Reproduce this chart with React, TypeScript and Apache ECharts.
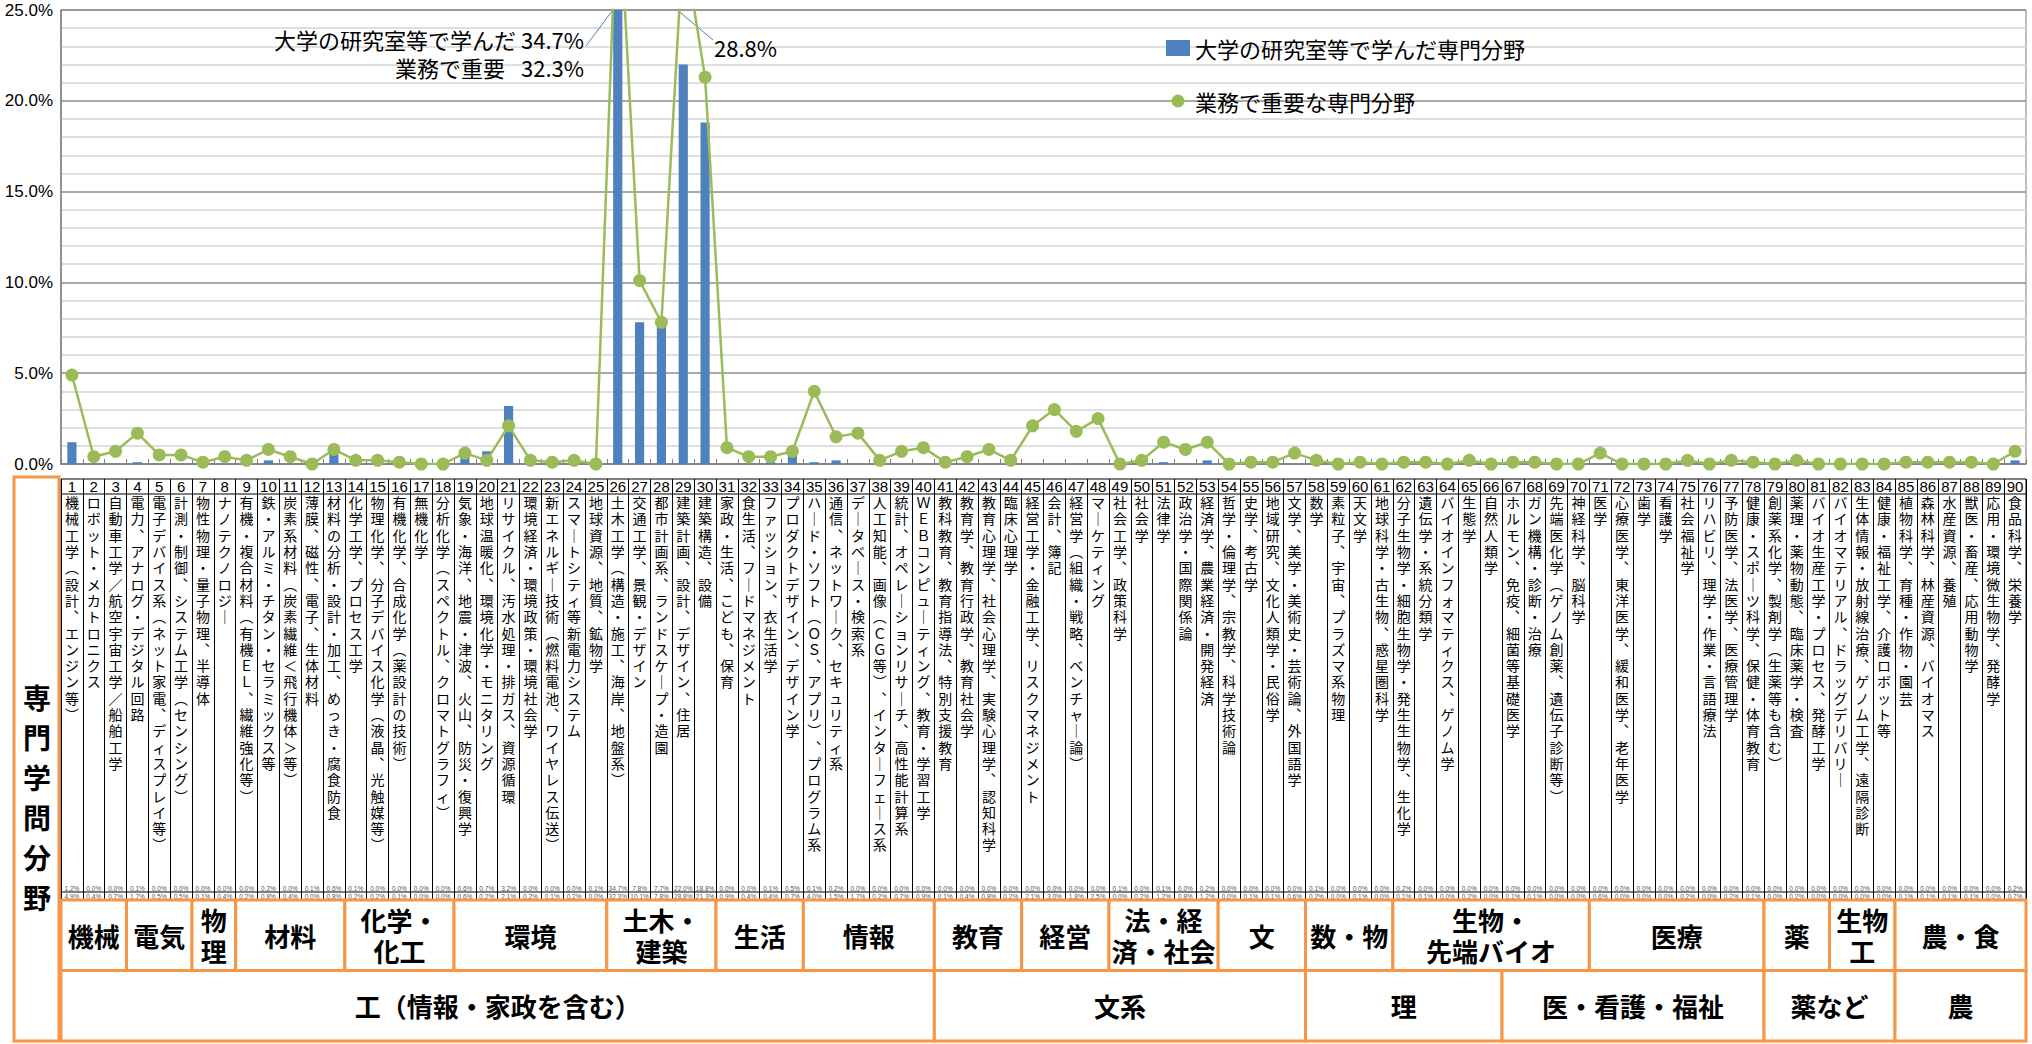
import React, { useEffect, useRef } from 'react';
import * as echarts from 'echarts';

const fieldNumbers = ['1','2','3','4','5','6','7','8','9','10','11','12','13','14','15','16','17','18','19','20','21','22','23','24','25','26','27','28','29','30','31','32','33','34','35','36','37','38','39','40','41','42','43','44','45','46','47','48','49','50','51','52','53','54','55','56','57','58','59','60','61','62','63','64','65','66','67','68','69','70','71','72','73','74','75','76','77','78','79','80','81','82','83','84','85','86','87','88','89','90'];

const fieldNames = [
  '機械工学（設計、エンジン等）',
  'ロボット・メカトロニクス',
  '自動車工学／航空宇宙工学／船舶工学',
  '電力、アナログ・デジタル回路',
  '電子デバイス系（ネット家電、ディスプレイ等）',
  '計測・制御、システム工学（センシング）',
  '物性物理・量子物理、半導体',
  'ナノテクノロジー',
  '有機・複合材料（有機ＥＬ、繊維強化等）',
  '鉄・アルミ・チタン・セラミックス等',
  '炭素系材料（炭素繊維＜飛行機体＞等）',
  '薄膜、磁性、電子、生体材料',
  '材料の分析・設計・加工、めっき・腐食防食',
  '化学工学、プロセス工学',
  '物理化学、分子デバイス化学（液晶、光触媒等）',
  '有機化学、合成化学（薬設計の技術）',
  '無機化学',
  '分析化学（スペクトル、クロマトグラフィ）',
  '気象・海洋、地震・津波、火山、防災・復興学',
  '地球温暖化、環境化学・モニタリング',
  'リサイクル、汚水処理・排ガス、資源循環',
  '環境経済・環境政策・環境社会学',
  '新エネルギー技術（燃料電池、ワイヤレス伝送）',
  'スマートシティ等新電力システム',
  '地球資源、地質、鉱物学',
  '土木工学（構造・施工、海岸、地盤系）',
  '交通工学、景観・デザイン',
  '都市計画系、ランドスケープ・造園',
  '建築計画、設計、デザイン、住居',
  '建築構造、設備',
  '家政・生活、こども、保育',
  '食生活、フードマネジメント',
  'ファッション、衣生活学',
  'プロダクトデザイン、デザイン学',
  'ハード・ソフト（ＯＳ、アプリ）、プログラム系',
  '通信、ネットワーク、セキュリティ系',
  'データベース・検索系',
  '人工知能、画像（ＣＧ等）、インターフェース系',
  '統計、オペレーションリサーチ、高性能計算系',
  'ＷＥＢコンピューティング、教育・学習工学',
  '教科教育、教育指導法、特別支援教育',
  '教育学、教育行政学、教育社会学',
  '教育心理学、社会心理学、実験心理学、認知科学',
  '臨床心理学',
  '経営工学・金融工学、リスクマネジメント',
  '会計、簿記',
  '経営学（組織・戦略、ベンチャー論）',
  'マーケティング',
  '社会工学、政策科学',
  '社会学',
  '法律学',
  '政治学・国際関係論',
  '経済学、農業経済・開発経済',
  '哲学・倫理学、宗教学、科学技術論',
  '史学、考古学',
  '地域研究、文化人類学・民俗学',
  '文学、美学・美術史・芸術論、外国語学',
  '数学',
  '素粒子、宇宙、プラズマ系物理',
  '天文学',
  '地球科学・古生物、惑星圏科学',
  '分子生物学・細胞生物学・発生生物学、生化学',
  '遺伝学・系統分類学',
  'バイオインフォマティクス、ゲノム学',
  '生態学',
  '自然人類学',
  'ホルモン、免疫、細菌等基礎医学',
  'ガン機構・診断・治療',
  '先端医化学（ゲノム創薬、遺伝子診断等）',
  '神経科学、脳科学',
  '医学',
  '心療医学、東洋医学、緩和医学、老年医学',
  '歯学',
  '看護学',
  '社会福祉学',
  'リハビリ、理学・作業・言語療法',
  '予防医学、法医学、医療管理学',
  '健康・スポーツ科学、保健・体育教育',
  '創薬系化学、製剤学（生薬等も含む）',
  '薬理・薬物動態、臨床薬学・検査',
  'バイオ生産工学・プロセス、発酵工学',
  'バイオマテリアル、ドラッグデリバリー',
  '生体情報・放射線治療、ゲノム工学、遠隔診断',
  '健康・福祉工学、介護ロボット等',
  '植物科学、育種・作物・園芸',
  '森林科学、林産資源、バイオマス',
  '水産資源、養殖',
  '獣医・畜産、応用動物学',
  '応用・環境微生物学、発酵学',
  '食品科学、栄養学',
];

// % of respondents: field studied in the university lab (bars)
const studiedShare = [
  1.2, 0.0, 0.0, 0.1, 0.0, 0.0, 0.0, 0.0, 0.0, 0.2,
  0.0, 0.1, 0.6, 0.1, 0.0, 0.0, 0.0, 0.0, 0.6, 0.7,
  3.2, 0.0, 0.0, 0.0, 0.1, 34.7, 7.8, 7.7, 22.0, 18.8,
  0.0, 0.0, 0.1, 0.5, 0.1, 0.2, 0.0, 0.0, 0.0, 0.0,
  0.0, 0.0, 0.0, 0.0, 0.0, 0.0, 0.0, 0.0, 0.1, 0.0,
  0.1, 0.0, 0.2, 0.0, 0.0, 0.0, 0.0, 0.1, 0.0, 0.0,
  0.0, 0.2, 0.0, 0.0, 0.0, 0.0, 0.0, 0.0, 0.0, 0.0,
  0.0, 0.0, 0.0, 0.0, 0.0, 0.0, 0.0, 0.0, 0.0, 0.0,
  0.0, 0.0, 0.0, 0.0, 0.0, 0.0, 0.0, 0.0, 0.0, 0.2,
];

// % of respondents: field important in their work (line)
const importantShare = [
  4.9, 0.4, 0.7, 1.7, 0.5, 0.5, 0.1, 0.4, 0.2, 0.8,
  0.4, 0.0, 0.8, 0.2, 0.2, 0.1, 0.0, 0.0, 0.6, 0.2,
  2.1, 0.2, 0.1, 0.2, 0.0, 32.3, 10.1, 7.8, 28.8, 21.3,
  0.9, 0.4, 0.4, 0.7, 4.0, 1.5, 1.7, 0.2, 0.7, 0.9,
  0.1, 0.4, 0.8, 0.2, 2.1, 3.0, 1.8, 2.5, 0.0, 0.2,
  1.2, 0.8, 1.2, 0.0, 0.1, 0.1, 0.6, 0.2, 0.0, 0.1,
  0.0, 0.1, 0.1, 0.0, 0.2, 0.0, 0.1, 0.1, 0.0, 0.0,
  0.6, 0.0, 0.0, 0.0, 0.2, 0.0, 0.2, 0.1, 0.0, 0.2,
  0.0, 0.0, 0.0, 0.0, 0.1, 0.1, 0.1, 0.1, 0.0, 0.7,
];

const subGroupLabels = ['機械', '電気', '物\n理', '材料', '化学・\n化工', '環境', '土木・\n建築', '生活', '情報', '教育', '経営', '法・経\n済・社会', '文', '数・物', '生物・\n先端バイオ', '医療', '薬', '生物\n工', '農・食'];
const subGroupFirst = [1, 4, 7, 9, 14, 19, 26, 31, 35, 41, 45, 49, 54, 58, 62, 71, 79, 82, 85];
const subGroupLast = [3, 6, 8, 13, 18, 25, 30, 34, 40, 44, 48, 53, 57, 61, 70, 78, 81, 84, 90];

const majorGroupLabels = ['工（情報・家政を含む）', '文系', '理', '医・看護・福祉', '薬など', '農'];
const majorGroupFirst = [1, 41, 58, 67, 79, 85];
const majorGroupLast = [40, 57, 66, 78, 84, 90];

const sideTitle = '専門学問分野';
const seriesStudied = '大学の研究室等で学んだ専門分野';
const seriesImportant = '業務で重要な専門分野';

const FONT_JP = '"Noto Sans CJK JP", "Noto Sans", sans-serif';
const FONT_NUM = '"Liberation Sans Narrow", "Liberation Sans", Arial, sans-serif';
const BLUE = '#4F81BD';
const GREEN = '#9BBB59';
const ORANGE = '#F79646';

const VERT: Record<string, string> = { '（': '︵', '）': '︶', '、': '︑', 'ー': '｜' };
const toVertical = (s: string) => Array.from(s).map((c) => VERT[c] ?? c).join('\n');
const pct = (v: number) => v.toFixed(1) + '%';

const groupData: number[][] = [
  ...subGroupFirst.map((f, i) => [f - 1, subGroupLast[i] - 1, 0]),
  ...majorGroupFirst.map((f, i) => [f - 1, majorGroupLast[i] - 1, 1]),
];
const groupLabels = [...subGroupLabels, ...majorGroupLabels];

const PLOT_LEFT = 61;
const PLOT_RIGHT = 2026;

export default function App() {
  const ref = useRef<HTMLDivElement>(null);
  useEffect(() => {
    const chart = echarts.init(ref.current!, null, { renderer: 'svg' });
    const dataRowLabel = (margin: number) => ({
      interval: 0,
      margin,
      fontSize: 6.5,
      color: '#555',
      fontFamily: FONT_NUM,
      verticalAlign: 'top',
    });
    const option: any = {
      animation: false,
      backgroundColor: '#ffffff',
      grid: [
        { left: PLOT_LEFT, right: 2032 - PLOT_RIGHT, top: 10, bottom: 580, show: true, borderColor: '#808080', borderWidth: 1 },
        { left: PLOT_LEFT, right: 2032 - PLOT_RIGHT, top: 479, height: 421, show: true, borderColor: '#000', borderWidth: 1 },
        { left: PLOT_LEFT, right: 2032 - PLOT_RIGHT, top: 900, height: 141 },
      ],
      legend: {
        orient: 'vertical',
        left: 1160,
        top: 32,
        itemGap: 31,
        itemWidth: 24,
        itemHeight: 16,
        textStyle: { fontSize: 22, fontFamily: FONT_JP, color: '#000' },
        data: [{ name: seriesStudied, icon: 'rect' }, { name: seriesImportant }],
      },
      xAxis: [
        {
          type: 'category', gridIndex: 0, position: 'bottom', data: fieldNumbers,
          axisLine: { lineStyle: { color: '#808080', width: 1.5 } },
          axisTick: { show: true, inside: true, length: 5, interval: 0, lineStyle: { color: '#808080' } },
          axisLabel: { interval: 0, margin: 15, fontSize: 15, color: '#000', fontFamily: FONT_NUM, verticalAlign: 'top' },
        },
        {
          type: 'category', gridIndex: 0, position: 'bottom', data: fieldNames,
          axisLine: { show: false }, axisTick: { show: false },
          axisLabel: {
            interval: 0, margin: 30, fontSize: 14, lineHeight: 16.3, color: '#000',
            fontFamily: FONT_JP, verticalAlign: 'top', formatter: (v: string) => toVertical(v),
          },
        },
        {
          type: 'category', gridIndex: 0, position: 'bottom', data: studiedShare.map(pct),
          axisLine: { show: false }, axisTick: { show: false }, axisLabel: dataRowLabel(421),
        },
        {
          type: 'category', gridIndex: 0, position: 'bottom', data: importantShare.map(pct),
          axisLine: { show: false }, axisTick: { show: false }, axisLabel: dataRowLabel(429),
        },
        {
          type: 'category', gridIndex: 1, data: fieldNumbers,
          axisLine: { show: false }, axisTick: { show: false }, axisLabel: { show: false },
          splitLine: { show: true, interval: 0, lineStyle: { color: '#000', width: 1 } },
        },
        { type: 'category', gridIndex: 2, data: fieldNumbers, show: false },
      ],
      yAxis: [
        {
          type: 'value', gridIndex: 0, min: 0, max: 25, interval: 5,
          axisLine: { show: true, lineStyle: { color: '#808080', width: 1.5 } },
          axisTick: { show: false },
          axisLabel: { formatter: (v: number) => v.toFixed(1) + '%', fontSize: 17, fontFamily: FONT_NUM, color: '#000', margin: 8 },
          splitLine: { show: true, lineStyle: { color: '#8c8c8c', width: 1.5 } },
          minorTick: { show: false, splitNumber: 5 },
          minorSplitLine: { show: true, lineStyle: { color: '#d4d4d4', width: 1.5 } },
        },
        { type: 'value', gridIndex: 1, min: 0, max: 1, show: false, splitLine: { show: false } },
        { type: 'value', gridIndex: 2, min: 0, max: 2, inverse: true, show: false, splitLine: { show: false } },
      ],
      series: [
        {
          name: seriesStudied, type: 'bar', xAxisIndex: 0, yAxisIndex: 0, data: studiedShare,
          barWidth: '42%', itemStyle: { color: BLUE }, clip: true,
        },
        {
          name: seriesImportant, type: 'line', xAxisIndex: 0, yAxisIndex: 0, data: importantShare,
          symbol: 'circle', symbolSize: 13, lineStyle: { color: GREEN, width: 2.5 },
          itemStyle: { color: GREEN }, clip: true, z: 3,
        },
        {
          type: 'custom', xAxisIndex: 5, yAxisIndex: 2, data: groupData, clip: false,
          renderItem: (params: any, api: any) => {
            const s = api.value(0);
            const e = api.value(1);
            const row = api.value(2);
            const bw = api.size([1, 0])[0];
            const p0 = api.coord([s, row]);
            const p1 = api.coord([e, row + 1]);
            const x0 = p0[0] - bw / 2;
            const x1 = p1[0] + bw / 2;
            return {
              type: 'group',
              children: [
                {
                  type: 'rect',
                  shape: { x: x0, y: p0[1], width: x1 - x0, height: p1[1] - p0[1] },
                  style: { fill: '#fff', stroke: ORANGE, lineWidth: 3 },
                },
                {
                  type: 'text',
                  style: {
                    text: groupLabels[params.dataIndex],
                    x: (x0 + x1) / 2, y: (p0[1] + p1[1]) / 2,
                    align: 'center', verticalAlign: 'middle',
                    fontSize: 26, lineHeight: 31, fontWeight: 'bold', fontFamily: FONT_JP, fill: '#000',
                  },
                },
              ],
            };
          },
        },
      ],
    };
    chart.setOption(option);

    const pBar = chart.convertToPixel({ seriesIndex: 0 }, [25, 25]) as number[];
    const pLine = chart.convertToPixel({ seriesIndex: 1 }, [28, 25]) as number[];
    const annFont = { fontSize: 22, fontFamily: FONT_JP, fill: '#000', verticalAlign: 'middle' };
    chart.setOption({
      graphic: [
        { type: 'line', shape: { x1: PLOT_LEFT, y1: 494, x2: PLOT_RIGHT, y2: 494 }, style: { stroke: '#000', lineWidth: 1 } },
        { type: 'line', shape: { x1: PLOT_LEFT, y1: 892, x2: PLOT_RIGHT, y2: 892 }, style: { stroke: '#000', lineWidth: 1 } },
        { type: 'rect', shape: { x: 14, y: 477, width: 45, height: 564 }, style: { fill: '#fff', stroke: ORANGE, lineWidth: 3 } },
        {
          type: 'text', x: 37, y: 797,
          style: { text: toVertical(sideTitle), align: 'center', verticalAlign: 'middle', fontSize: 28, lineHeight: 40, fontFamily: FONT_JP, fill: '#000', fontWeight: 'bold' },
        },
        { type: 'text', x: 516, y: 39, style: { ...annFont, text: '大学の研究室等で学んだ', align: 'right' } },
        { type: 'text', x: 584, y: 39, style: { ...annFont, text: '34.7%', align: 'right' } },
        { type: 'text', x: 505, y: 67, style: { ...annFont, text: '業務で重要', align: 'right' } },
        { type: 'text', x: 584, y: 67, style: { ...annFont, text: '32.3%', align: 'right' } },
        { type: 'text', x: 714, y: 47, style: { ...annFont, text: '28.8%', align: 'left' } },
        { type: 'line', shape: { x1: 586, y1: 46, x2: pBar[0] - 5, y2: pBar[1] }, style: { stroke: BLUE, lineWidth: 1 } },
        { type: 'line', shape: { x1: pLine[0] - 6, y1: pLine[1], x2: 713, y2: 40 }, style: { stroke: BLUE, lineWidth: 1 } },
      ],
    });
    return () => chart.dispose();
  }, []);
  return <div ref={ref} style={{ position: 'absolute', left: 0, top: 0, width: 2032, height: 1044 }} />;
}
